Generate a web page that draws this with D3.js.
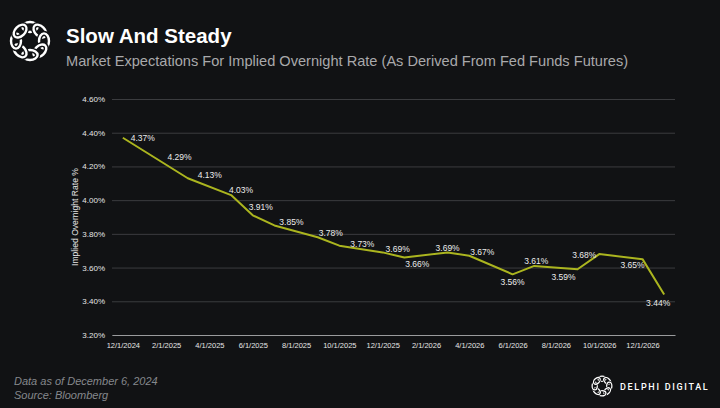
<!DOCTYPE html>
<html>
<head>
<meta charset="utf-8">
<script src="https://cdn.jsdelivr.net/npm/d3@7"></script>
<style>
html, body { margin: 0; padding: 0; background: #111214; }
svg { display: block; font-family: "Liberation Sans", Arial, sans-serif; }
</style>
</head>
<body>
<svg id="chart" width="720" height="408"></svg>
<script>
// data
const meetingDates = ['12/1/2024', '1/1/2025', '3/1/2025', '5/1/2025', '6/1/2025', '7/1/2025',
    '9/1/2025', '10/1/2025', '12/1/2025', '1/1/2026', '3/1/2026', '4/1/2026',
    '6/1/2026', '7/1/2026', '9/1/2026', '10/1/2026', '12/1/2026', '1/1/2027']
const impliedRate = [4.37, 4.29, 4.13, 4.03, 3.91, 3.85, 3.78, 3.73, 3.69, 3.66, 3.69, 3.67,
    3.56, 3.61, 3.59, 3.68, 3.65, 3.44]
const xTickLabels = ['12/1/2024', '2/1/2025', '4/1/2025', '6/1/2025', '8/1/2025', '10/1/2025',
    '12/1/2025', '2/1/2026', '4/1/2026', '6/1/2026', '8/1/2026', '10/1/2026', '12/1/2026']
const yTickValues = [3.2, 3.4, 3.6, 3.8, 4.0, 4.2, 4.4, 4.6]

const title = 'Slow And Steady'
const subtitle = 'Market Expectations For Implied Overnight Rate (As Derived From Fed Funds Futures)'
const yTitle = 'Implied Overnight Rate %'
const footNotes = ['Data as of December 6, 2024', 'Source: Bloomberg']

// where each data label sits relative to its point (hand placed in the original)
let labelNudge = [[20, 0], [35, 5.5], [22, -3.5], [10, -5.5], [8, -8], [17, -3.5], [13, -4],
    [23, -1.5], [15, -3], [13, 7], [0, -4], [13, -4], [0, 7.5], [2, -5], [-14, 8], [-15, 1],
    [-10, 6], [-6, 8]]

let parseDay = d3.timeParse('%m/%d/%Y')
let firstMonth = parseDay(meetingDates[0])
let monthIndex = s => d3.timeMonth.count(firstMonth, parseDay(s))

let svg = d3.select('#chart')
let bg = '#111214'
svg.append('rect').attr('width', 720).attr('height', 408).attr('fill', bg)

// knot logo, roughly
function drawKnot (g, cx, cy, s) {
    let k = g.append('g').attr('transform', 'translate(' + cx + ',' + cy + ') scale(' + s + ')')
    d3.range(8).forEach(i => {
        let a = i * 45
        let loop = k.append('g').attr('transform', 'rotate(' + a + ') translate(0,-14)')
        loop.append('ellipse').attr('rx', 7.6).attr('ry', 5)
            .attr('fill', 'none').attr('stroke', bg).attr('stroke-width', 5.2)
        loop.append('ellipse').attr('rx', 7.6).attr('ry', 5)
            .attr('fill', 'none').attr('stroke', '#fff').attr('stroke-width', 2.4)
    })
}
drawKnot(svg, 30, 41, 1)

svg.append('text')
    .attr('x', 66).attr('y', 43)
    .attr('fill', '#fff').attr('font-size', 20.5).attr('font-weight', 'bold')
    .text(title)

svg.append('text')
    .attr('x', 66).attr('y', 66)
    .attr('fill', '#a9a9ab').attr('font-size', 14.6)
    .text(subtitle)

// scales
let x = d3.scaleLinear().domain([-0.5, 25.5]).range([112, 675])
let y = d3.scaleLinear().domain([3.2, 4.6]).range([335, 99])

// grid + y labels
let yAxis = svg.append('g')
    .attr('transform', 'translate(112,0)')
    .call(d3.axisLeft(y).tickValues(yTickValues).tickSize(-(675 - 112)).tickPadding(7)
        .tickFormat(d => d3.format('.2f')(d) + '%'))
yAxis.select('.domain').remove()
yAxis.selectAll('.tick line').attr('stroke', '#3b3c3f').attr('stroke-width', 1)
yAxis.selectAll('.tick text').attr('fill', '#e6e6e6').attr('font-size', 8)
    .attr('font-family', '"Liberation Sans", Arial, sans-serif')

// x axis
let xAxis = svg.append('g')
    .attr('transform', 'translate(0,335)')
    .call(d3.axisBottom(x).tickValues(xTickLabels.map(monthIndex)).tickSize(0).tickPadding(8)
        .tickFormat((d, i) => xTickLabels[i]))
xAxis.select('.domain').attr('stroke', '#9a9b9d').attr('stroke-width', 1.2)
xAxis.selectAll('.tick text').attr('fill', '#e6e6e6').attr('font-size', 7.5)
    .attr('font-family', '"Liberation Sans", Arial, sans-serif')

svg.append('text')
    .attr('transform', 'translate(78,217) rotate(-90)')
    .attr('text-anchor', 'middle')
    .attr('fill', '#e6e6e6').attr('font-size', 8.6)
    .text(yTitle)

// line
let points = meetingDates.map((d, i) => ({ m: monthIndex(d), v: impliedRate[i] }))
let line = d3.line().x(d => x(d.m)).y(d => y(d.v))
svg.append('path')
    .datum(points)
    .attr('d', line)
    .attr('fill', 'none')
    .attr('stroke', '#abb51f')
    .attr('stroke-width', 2)
    .attr('stroke-linejoin', 'round')

svg.append('g').selectAll('text')
    .data(points)
    .enter()
    .append('text')
    .attr('x', (d, i) => x(d.m) + labelNudge[i][0])
    .attr('y', (d, i) => y(d.v) + labelNudge[i][1])
    .attr('text-anchor', 'middle')
    .attr('dominant-baseline', 'central')
    .attr('fill', '#ececec').attr('font-size', 8.5)
    .text(d => d3.format('.2f')(d.v) + '%')

// footer
svg.append('g').selectAll('text')
    .data(footNotes)
    .enter()
    .append('text')
    .attr('x', 14).attr('y', (d, i) => 385 + i * 13.5)
    .attr('fill', '#85888c').attr('font-size', 11).attr('font-style', 'italic')
    .text(d => d)

drawKnot(svg, 602, 386, 0.52)
svg.append('text')
    .attr('x', 620).attr('y', 389.5)
    .attr('fill', '#fff').attr('font-size', 9).attr('font-family', 'Roboto, sans-serif')
    .attr('font-weight', 500).attr('letter-spacing', 1.7)
    .text('DELPHI DIGITAL')
</script>
</body>
</html>
